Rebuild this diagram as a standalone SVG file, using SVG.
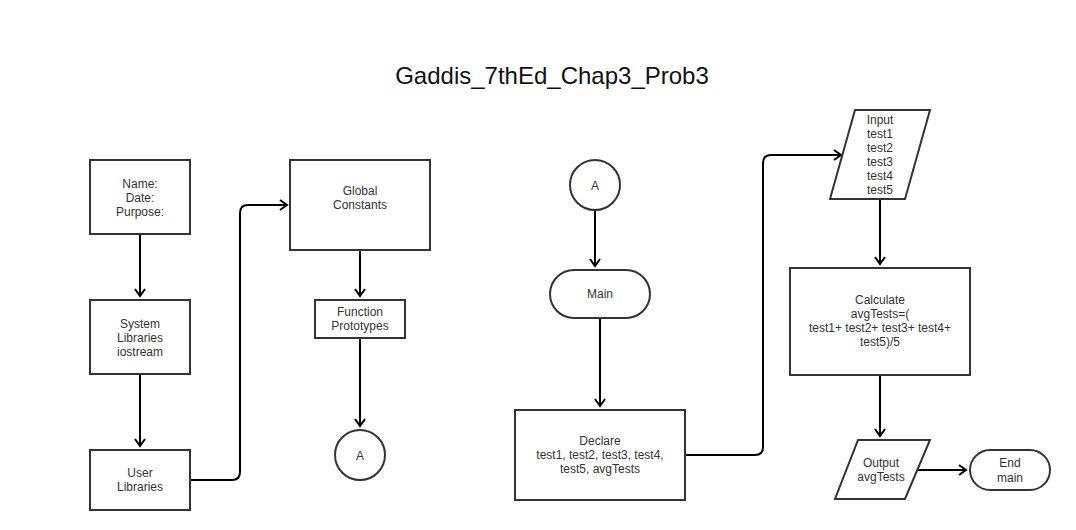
<svg xmlns="http://www.w3.org/2000/svg" width="1076" height="530" viewBox="0 0 1076 530">
<style>
.n{fill:#fff;stroke:#333;stroke-width:2}
.t{font-family:"Liberation Sans",Arial,sans-serif;font-size:12px;fill:#333;text-anchor:middle}
.c{fill:none;stroke:#000;stroke-width:2;stroke-linejoin:round}
</style>
<defs>
<marker id="ar" markerWidth="12" markerHeight="12" refX="9" refY="6" orient="auto" markerUnits="userSpaceOnUse">
<path d="M2,1 L9,6 L2,11" fill="none" stroke="#000" stroke-width="2"/>
</marker>
</defs>
<rect width="1076" height="530" fill="#fff"/>
<text x="552" y="84" style="font-family:'Liberation Sans',Arial,sans-serif;font-size:24px;fill:#111;text-anchor:middle">Gaddis_7thEd_Chap3_Prob3</text>
<g id="connectors">
<path class="c" d="M140,234 V296" marker-end="url(#ar)"/>
<path class="c" d="M140,374 V446" marker-end="url(#ar)"/>
<path class="c" d="M190,480 H232 Q240,480 240,472 V213 Q240,205 248,205 H287" marker-end="url(#ar)"/>
<path class="c" d="M360,250 V296" marker-end="url(#ar)"/>
<path class="c" d="M360,338 V426" marker-end="url(#ar)"/>
<path class="c" d="M595,210 V266" marker-end="url(#ar)"/>
<path class="c" d="M600,318 V406" marker-end="url(#ar)"/>
<path class="c" d="M685,455 H755 Q763,455 763,447 V163 Q763,155 771,155 H841" marker-end="url(#ar)"/>
<path class="c" d="M880,199 V264" marker-end="url(#ar)"/>
<path class="c" d="M880,375 V436" marker-end="url(#ar)"/>
<path class="c" d="M916,470 H966" marker-end="url(#ar)"/>
</g>
<g id="header">
<rect class="n" x="90" y="160" width="100" height="74"/>
<text class="t" x="140" y="188">Name:</text>
<text class="t" x="140" y="202">Date:</text>
<text class="t" x="140" y="216">Purpose:</text>
</g>
<g id="syslib">
<rect class="n" x="90" y="300" width="100" height="74"/>
<text class="t" x="140" y="328">System</text>
<text class="t" x="140" y="342">Libraries</text>
<text class="t" x="140" y="356">iostream</text>
</g>
<g id="userlib">
<rect class="n" x="90" y="450" width="100" height="60"/>
<text class="t" x="140" y="477">User</text>
<text class="t" x="140" y="491">Libraries</text>
</g>
<g id="global">
<rect class="n" x="290" y="160" width="140" height="90"/>
<text class="t" x="360" y="195">Global</text>
<text class="t" x="360" y="209">Constants</text>
</g>
<g id="proto">
<rect class="n" x="315" y="300" width="90" height="38"/>
<text class="t" x="360" y="316">Function</text>
<text class="t" x="360" y="330">Prototypes</text>
</g>
<g id="connA1">
<circle class="n" cx="360" cy="455" r="25"/>
<text class="t" x="360" y="460">A</text>
</g>
<g id="connA2">
<circle class="n" cx="595" cy="185" r="25"/>
<text class="t" x="595" y="190">A</text>
</g>
<g id="main">
<rect class="n" x="550" y="270" width="100" height="48" rx="24" ry="24"/>
<text class="t" x="600" y="298">Main</text>
</g>
<g id="declare">
<rect class="n" x="515" y="410" width="170" height="90"/>
<text class="t" x="600" y="445">Declare</text>
<text class="t" x="600" y="459">test1, test2, test3, test4,</text>
<text class="t" x="600" y="473">test5, avgTests</text>
</g>
<g id="input">
<polygon class="n" points="855,110 930,110 905,199 830,199"/>
<text class="t" x="880" y="124">Input</text>
<text class="t" x="880" y="138">test1</text>
<text class="t" x="880" y="152">test2</text>
<text class="t" x="880" y="166">test3</text>
<text class="t" x="880" y="180">test4</text>
<text class="t" x="880" y="194">test5</text>
</g>
<g id="calc">
<rect class="n" x="790" y="268" width="180" height="107"/>
<text class="t" x="880" y="304">Calculate</text>
<text class="t" x="880" y="318">avgTests=(</text>
<text class="t" x="880" y="332">test1+ test2+ test3+ test4+</text>
<text class="t" x="880" y="346">test5)/5</text>
</g>
<g id="output">
<polygon class="n" points="858,440 930,440 905,499 835,499"/>
<text class="t" x="881" y="467">Output</text>
<text class="t" x="881" y="481">avgTests</text>
</g>
<g id="end">
<rect class="n" x="970" y="450" width="80" height="40" rx="20" ry="20"/>
<text class="t" x="1010" y="467">End</text>
<text class="t" x="1010" y="482">main</text>
</g>
</svg>
